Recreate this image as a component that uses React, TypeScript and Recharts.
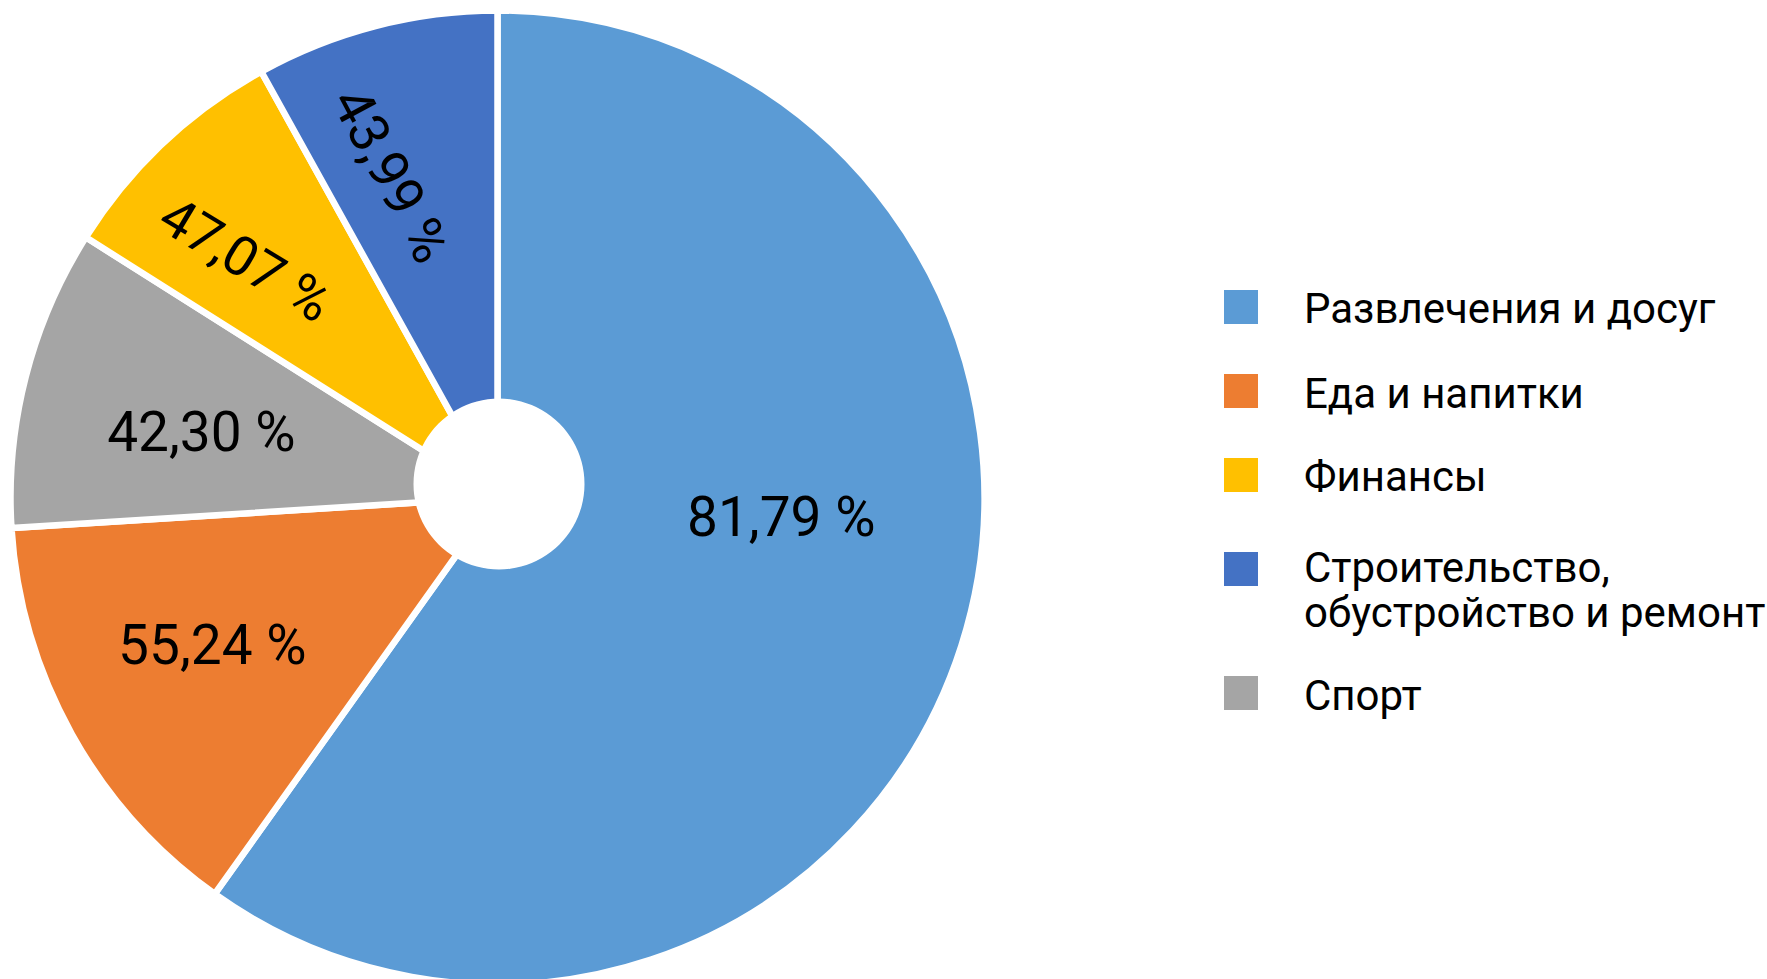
import { Cell, Legend, Pie, PieChart } from "recharts";

// slice order clockwise from 12 o'clock, as drawn
const categories = [
  "Развлечения и досуг",
  "Еда и напитки",
  "Спорт",
  "Финансы",
  "Строительство, обустройство и ремонт",
];
// slice sizes (share of the circle, %)
const shares = [59.86, 14.14, 9.97, 7.97, 8.06];
// printed data labels
const valueLabels = ["81,79 %", "55,24 %", "42,30 %", "47,07 %", "43,99 %"];
// legend lists the categories in its own order
const legendOrder = [
  "Развлечения и досуг",
  "Еда и напитки",
  "Финансы",
  "Строительство, обустройство и ремонт",
  "Спорт",
];

const colors = ["#5B9BD5", "#ED7D31", "#A5A5A5", "#FFC000", "#4472C4"];

const data = categories.map((name, i) => ({ name, value: shares[i] }));
const holeData = [{ name: "hole", value: 1 }];

const FONT = "Roboto, 'Noto Sans', sans-serif";

// where each label sits: angle clockwise from top, radius as fraction of outer radius, text rotation
const labelPlace = [
  { angle: 93.9, r: 0.584, rotate: 0 },
  { angle: 242.7, r: 0.659, rotate: 0 },
  { angle: 282.6, r: 0.623, rotate: 0 },
  { angle: 313.5, r: 0.712, rotate: 31 },
  { angle: 341.9, r: 0.697, rotate: 62 },
];

const legendTops = [0, 84.4, 168, 262.5, 386.5];
const legendTextTop = [-3.4, -3.4, -3.4, -7.4, -3.4];

function renderLabel(props: any) {
  const { cx, cy, outerRadius, index } = props;
  const p = labelPlace[index];
  const a = (p.angle * Math.PI) / 180;
  const x = cx + Math.sin(a) * outerRadius * p.r;
  const y = cy - Math.cos(a) * outerRadius * p.r;
  return (
    <text
      x={x}
      y={y}
      dy="0.355em"
      transform={`rotate(${p.rotate} ${x} ${y})`}
      textAnchor="middle"
      fontSize={55}
      fontFamily={FONT}
      fill="#000"
    >
      {valueLabels[index]}
    </text>
  );
}

function renderLegend() {
  return (
    <div
      style={{
        position: "relative",
        width: 540,
        height: 440,
        fontFamily: FONT,
        fontSize: 42,
        color: "#000",
      }}
    >
      {legendOrder.map((name, i) => {
        const idx = categories.indexOf(name);
        return (
          <div key={name} style={{ position: "absolute", left: 0, top: legendTops[i] }}>
            <div
              style={{
                position: "absolute",
                left: 0,
                top: 0,
                width: 34,
                height: 34,
                background: colors[idx],
              }}
            />
            <div
              style={{
                position: "absolute",
                left: 80,
                top: legendTextTop[i],
                whiteSpace: "pre",
                lineHeight: "45px",
              }}
            >
              {name.replace(", ", ",\n")}
            </div>
          </div>
        );
      })}
    </div>
  );
}

export default function App() {
  return (
    <div style={{ position: "absolute", left: 0, top: 0, background: "#fff" }}>
      <PieChart width={1767} height={979} margin={{ top: 0, right: 0, bottom: 0, left: 0 }}>
        <Pie
          data={data}
          dataKey="value"
          nameKey="name"
          cx={497.5}
          cy={497.5}
          outerRadius={487}
          startAngle={90}
          endAngle={-270}
          stroke="#fff"
          strokeWidth={6.5}
          label={renderLabel}
          labelLine={false}
          isAnimationActive={false}
        >
          {data.map((d, i) => (
            <Cell key={d.name} fill={colors[i]} />
          ))}
        </Pie>
        <Pie
          data={holeData}
          dataKey="value"
          cx={499}
          cy={484}
          outerRadius={85.5}
          fill="#fff"
          stroke="none"
          legendType="none"
          isAnimationActive={false}
        />
        <Legend
          layout="vertical"
          align="right"
          verticalAlign="top"
          content={renderLegend}
          wrapperStyle={{ left: 1224, top: 289.6, width: 540, height: 440, right: "auto", bottom: "auto" }}
        />
      </PieChart>
    </div>
  );
}
